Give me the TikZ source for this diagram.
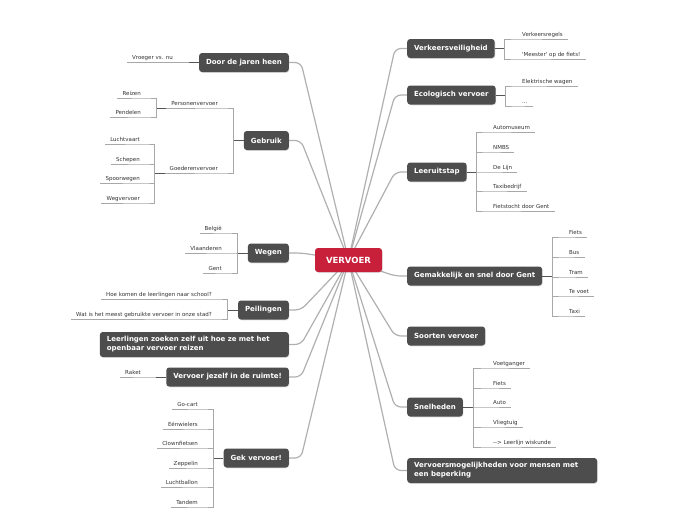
\documentclass[tikz,border=0pt]{standalone}
\usepackage{fontspec}
\setmainfont{DejaVu Sans}
\usetikzlibrary{calc,shadows,backgrounds}
\definecolor{boxgray}{HTML}{4D4D4D}
\definecolor{vred}{HTML}{C8203A}
\definecolor{linkgray}{HTML}{B0B0B0}
\definecolor{subgray}{HTML}{A8A8A8}
\definecolor{stubgray}{HTML}{555555}
\definecolor{txtgray}{HTML}{333333}
\tikzset{
  topic/.style={fill=boxgray, rounded corners=3pt, text=white,
    font=\fontsize{7}{9}\selectfont\bfseries, inner xsep=7pt, inner ysep=0pt,
    minimum height=19pt,
    drop shadow={opacity=0.25, shadow xshift=0.6pt, shadow yshift=-0.8pt}},
  wide/.style={topic, text width=#1, align=left, minimum height=25pt},
  central/.style={fill=vred, rounded corners=3pt, text=white,
    font=\fontsize{8.5}{10}\selectfont\bfseries, minimum width=67pt,
    minimum height=24pt, inner sep=0pt,
    drop shadow={opacity=0.25, shadow xshift=0.6pt, shadow yshift=-0.8pt}},
  leaf/.style={font=\fontsize{5.5}{6.6}\selectfont, text=txtgray,
    inner xsep=5pt, inner ysep=1.5pt, text height=4.2pt, text depth=1.3pt},
  link/.style={draw=linkgray, line width=1.2pt, rounded corners=6pt},
  stub/.style={draw=stubgray, line width=0.9pt},
  subline/.style={draw=subgray, line width=0.8pt},
}
\begin{document}
\begin{tikzpicture}[x=1pt,y=-1pt]
\useasboundingbox (0,0) rectangle (697,520);

% central
\node[central] (V) at (348.5,260) {VERVOER};

% left topics
\node[topic, anchor=east] (D) at (289,62.5) {Door de jaren heen};
\node[topic, anchor=east] (G) at (289,140.5) {Gebruik};
\node[topic, anchor=east] (W) at (289,253) {Wegen};
\node[topic, anchor=east] (P) at (289,310) {Peilingen};
\node[wide=175pt, anchor=east] (L) at (289,344.5) {Leerlingen zoeken zelf uit hoe ze met het\\openbaar vervoer reizen};
\node[topic, anchor=east] (R) at (289,377) {Vervoer jezelf in de ruimte!};
\node[topic, anchor=east] (K) at (289,458) {Gek vervoer!};

% right topics
\node[topic, anchor=west] (VV) at (407,48.5) {Verkeersveiligheid};
\node[topic, anchor=west] (EV) at (407,95) {Ecologisch vervoer};
\node[topic, anchor=west] (LU) at (407,172) {Leeruitstap};
\node[topic, anchor=west] (GS) at (407,276) {Gemakkelijk en snel door Gent};
\node[topic, anchor=west] (SV) at (407,336) {Soorten vervoer};
\node[topic, anchor=west] (SN) at (407,407) {Snelheden};
\node[wide=176pt, anchor=west] (VM) at (407,470.5) {Vervoersmogelijkheden voor mensen met\\een beperking};

% main links
\begin{pgfonlayer}{background}
\fill[white] (0,0) rectangle (697,520);
\foreach \t in {D,G,W,P,L,R,K}{\draw[link] (\t.east) -- ++(12,0) -- (V.center);}
\foreach \t in {VV,EV,LU,GS,SV,SN,VM}{\draw[link] (\t.west) -- ++(-12,0) -- (V.center);}
\end{pgfonlayer}

% ---------- left leaves ----------
% Door de jaren heen
\node[leaf, anchor=south east] (d1) at (178,62.5) {Vroeger vs. nu};
\draw[stub] (D.west) -- ++(-10,0) coordinate (dj);
\draw[subline] (dj) |- (d1.south east) -- (d1.south west);

% Gebruik
\node[leaf, anchor=south east] (pv) at (223,108) {Personenvervoer};
\node[leaf, anchor=south east] (gv) at (223,173) {Goederenvervoer};
\draw[stub] (G.west) -- ++(-10,0) coordinate (gj);
\foreach \c in {pv,gv}{\draw[subline] (gj) |- (\c.south east) -- (\c.south west);}

\node[leaf, anchor=south east] (pv1) at (146,98) {Reizen};
\node[leaf, anchor=south east] (pv2) at (146,117) {Pendelen};
\draw[stub] (pv.south west) -- ++(-10,0) coordinate (pvj);
\foreach \c in {pv1,pv2}{\draw[subline] (pvj) |- (\c.south east) -- (\c.south west);}

\node[leaf, anchor=south east] (gv1) at (145,144) {Luchtvaart};
\node[leaf, anchor=south east] (gv2) at (145,164) {Schepen};
\node[leaf, anchor=south east] (gv3) at (145,183) {Spoorwegen};
\node[leaf, anchor=south east] (gv4) at (145,203) {Wegvervoer};
\draw[stub] (gv.south west) -- ++(-10,0) coordinate (gvj);
\foreach \c in {gv1,gv2,gv3,gv4}{\draw[subline] (gvj) |- (\c.south east) -- (\c.south west);}

% Wegen
\node[leaf, anchor=south east] (w1) at (227,233) {België};
\node[leaf, anchor=south east] (w2) at (227,253) {Vlaanderen};
\node[leaf, anchor=south east] (w3) at (227,273) {Gent};
\draw[stub] (W.west) -- ++(-10,0) coordinate (wj);
\foreach \c in {w1,w2,w3}{\draw[subline] (wj) |- (\c.south east) -- (\c.south west);}

% Peilingen
\node[leaf, anchor=south east] (p1) at (217,299) {Hoe komen de leerlingen naar school?};
\node[leaf, anchor=south east] (p2) at (217,319) {Wat is het meest gebruikte vervoer in onze stad?};
\draw[stub] (P.west) -- ++(-10,0) coordinate (pj);
\foreach \c in {p1,p2}{\draw[subline] (pj) |- (\c.south east) -- (\c.south west);}

% Ruimte
\node[leaf, anchor=south east] (r1) at (146,377) {Raket};
\draw[stub] (R.west) -- ++(-10,0) coordinate (rj);
\draw[subline] (rj) |- (r1.south east) -- (r1.south west);

% Gek vervoer
\node[leaf, anchor=south east] (k1) at (203,409) {Go-cart};
\node[leaf, anchor=south east] (k2) at (203,429) {Eénwielers};
\node[leaf, anchor=south east] (k3) at (203,448) {Clownfietsen};
\node[leaf, anchor=south east] (k4) at (203,468) {Zeppelin};
\node[leaf, anchor=south east] (k5) at (203,487) {Luchtballon};
\node[leaf, anchor=south east] (k6) at (203,507) {Tandem};
\draw[stub] (K.west) -- ++(-10,0) coordinate (kj);
\foreach \c in {k1,k2,k3,k4,k5,k6}{\draw[subline] (kj) |- (\c.south east) -- (\c.south west);}

% ---------- right leaves ----------
\node[leaf, anchor=south west] (vv1) at (517,39) {Verkeersregels};
\node[leaf, anchor=south west] (vv2) at (517,59) {\textquotesingle Meester\textquotesingle{} op de fiets!};
\draw[stub] (VV.east) -- ++(10,0) coordinate (vvj);
\foreach \c in {vv1,vv2}{\draw[subline] (vvj) |- (\c.south west) -- (\c.south east);}

\node[leaf, anchor=south west] (ev1) at (517,86) {Elektrische wagen};
\node[leaf, anchor=south west] (ev2) at (517,106) {...};
\draw[stub] (EV.east) -- ++(10,0) coordinate (evj);
\foreach \c in {ev1,ev2}{\draw[subline] (evj) |- (\c.south west) -- (\c.south east);}

\node[leaf, anchor=south west] (lu1) at (488,132) {Automuseum};
\node[leaf, anchor=south west] (lu2) at (488,152) {NMBS};
\node[leaf, anchor=south west] (lu3) at (488,172) {De Lijn};
\node[leaf, anchor=south west] (lu4) at (488,191) {Taxibedrijf};
\node[leaf, anchor=south west] (lu5) at (488,211) {Fietstocht door Gent};
\draw[stub] (LU.east) -- ++(10,0) coordinate (luj);
\foreach \c in {lu1,lu2,lu3,lu4,lu5}{\draw[subline] (luj) |- (\c.south west) -- (\c.south east);}

\node[leaf, anchor=south west] (gs1) at (564,237) {Fiets};
\node[leaf, anchor=south west] (gs2) at (564,257) {Bus};
\node[leaf, anchor=south west] (gs3) at (564,277) {Tram};
\node[leaf, anchor=south west] (gs4) at (564,296) {Te voet};
\node[leaf, anchor=south west] (gs5) at (564,316) {Taxi};
\draw[stub] (GS.east) -- ++(10,0) coordinate (gsj);
\foreach \c in {gs1,gs2,gs3,gs4,gs5}{\draw[subline] (gsj) |- (\c.south west) -- (\c.south east);}

\node[leaf, anchor=south west] (sn1) at (488,368) {Voetganger};
\node[leaf, anchor=south west] (sn2) at (488,388) {Fiets};
\node[leaf, anchor=south west] (sn3) at (488,407) {Auto};
\node[leaf, anchor=south west] (sn4) at (488,427) {Vliegtuig};
\node[leaf, anchor=south west] (sn5) at (488,447) {\mbox{-}\mbox{-}> Leerlijn wiskunde};
\draw[stub] (SN.east) -- ++(10,0) coordinate (snj);
\foreach \c in {sn1,sn2,sn3,sn4,sn5}{\draw[subline] (snj) |- (\c.south west) -- (\c.south east);}
\end{tikzpicture}
\end{document}
